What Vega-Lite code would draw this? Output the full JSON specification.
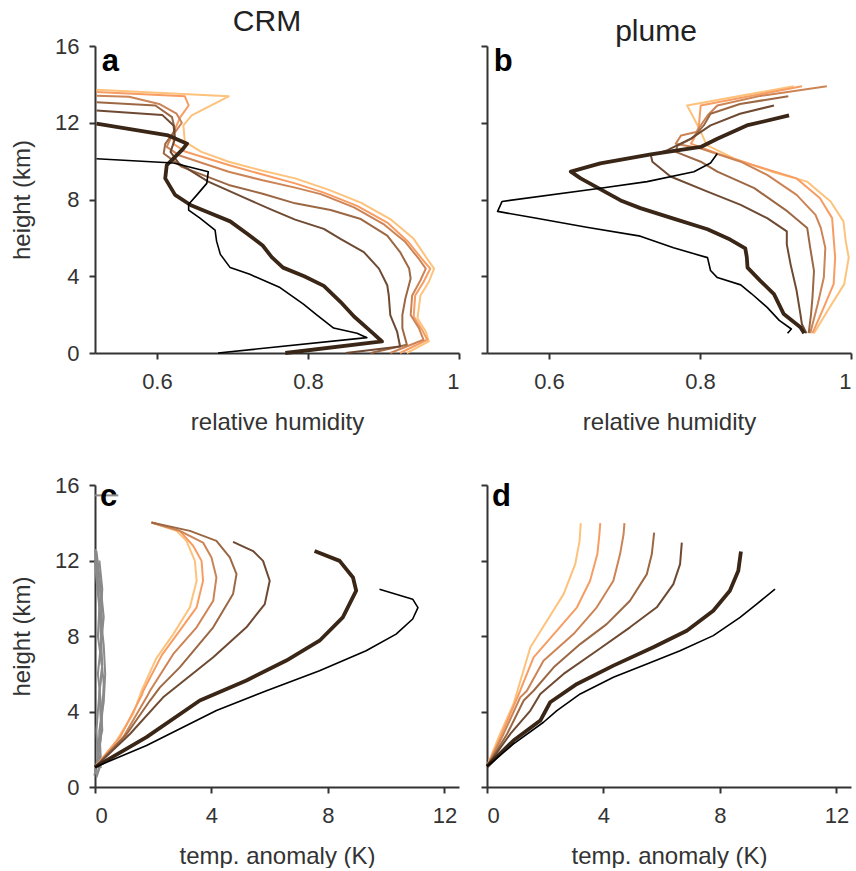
{
"$schema": "https://vega.github.io/schema/vega-lite/v6.json",
"padding": {"left": 10, "top": 7, "right": 5, "bottom": 0},
"background": "white",
"datasets": {
"a": [
{"s":"c5","x":0.931,"y":0},{"s":"c5","x":0.960,"y":0.6},{"s":"c5","x":0.956,"y":1.12},{"s":"c5","x":0.945,"y":1.81},{"s":"c5","x":0.949,"y":3.0},{"s":"c5","x":0.960,"y":3.7},{"s":"c5","x":0.967,"y":4.4},{"s":"c5","x":0.958,"y":4.9},{"s":"c5","x":0.940,"y":5.95},{"s":"c5","x":0.909,"y":6.98},{"s":"c5","x":0.870,"y":7.84},{"s":"c5","x":0.826,"y":8.53},{"s":"c5","x":0.783,"y":9.1},{"s":"c5","x":0.740,"y":9.5},{"s":"c5","x":0.695,"y":9.97},{"s":"c5","x":0.659,"y":10.48},{"s":"c5","x":0.637,"y":11.0},{"s":"c5","x":0.635,"y":11.86},{"s":"c5","x":0.646,"y":12.38},{"s":"c5","x":0.695,"y":13.38},{"s":"c5","x":0.52,"y":13.72},
{"s":"c4","x":0.922,"y":0},{"s":"c4","x":0.958,"y":0.69},{"s":"c4","x":0.951,"y":1.21},{"s":"c4","x":0.940,"y":1.9},{"s":"c4","x":0.942,"y":3.0},{"s":"c4","x":0.953,"y":3.7},{"s":"c4","x":0.962,"y":4.4},{"s":"c4","x":0.951,"y":4.9},{"s":"c4","x":0.933,"y":5.78},{"s":"c4","x":0.905,"y":6.8},{"s":"c4","x":0.865,"y":7.67},{"s":"c4","x":0.821,"y":8.36},{"s":"c4","x":0.783,"y":8.84},{"s":"c4","x":0.740,"y":9.3},{"s":"c4","x":0.695,"y":9.8},{"s":"c4","x":0.637,"y":10.5},{"s":"c4","x":0.622,"y":10.9},{"s":"c4","x":0.622,"y":11.52},{"s":"c4","x":0.631,"y":12.29},{"s":"c4","x":0.642,"y":12.9},{"s":"c4","x":0.637,"y":13.38},{"s":"c4","x":0.52,"y":13.6},
{"s":"c3","x":0.909,"y":0},{"s":"c3","x":0.953,"y":0.69},{"s":"c3","x":0.947,"y":1.29},{"s":"c3","x":0.936,"y":1.98},{"s":"c3","x":0.938,"y":3.0},{"s":"c3","x":0.949,"y":3.79},{"s":"c3","x":0.956,"y":4.4},{"s":"c3","x":0.947,"y":4.9},{"s":"c3","x":0.929,"y":5.78},{"s":"c3","x":0.900,"y":6.72},{"s":"c3","x":0.861,"y":7.59},{"s":"c3","x":0.817,"y":8.28},{"s":"c3","x":0.783,"y":8.62},{"s":"c3","x":0.740,"y":9.0},{"s":"c3","x":0.695,"y":9.45},{"s":"c3","x":0.629,"y":10.31},{"s":"c3","x":0.613,"y":10.74},{"s":"c3","x":0.618,"y":11.17},{"s":"c3","x":0.633,"y":12.0},{"s":"c3","x":0.626,"y":12.47},{"s":"c3","x":0.603,"y":12.98},{"s":"c3","x":0.563,"y":13.36},{"s":"c3","x":0.52,"y":13.41},
{"s":"c2","x":0.883,"y":0},{"s":"c2","x":0.931,"y":0.43},{"s":"c2","x":0.925,"y":1.29},{"s":"c2","x":0.925,"y":1.98},{"s":"c2","x":0.929,"y":2.84},{"s":"c2","x":0.936,"y":3.88},{"s":"c2","x":0.934,"y":4.4},{"s":"c2","x":0.922,"y":5.26},{"s":"c2","x":0.905,"y":6.12},{"s":"c2","x":0.870,"y":6.98},{"s":"c2","x":0.830,"y":7.45},{"s":"c2","x":0.783,"y":7.8},{"s":"c2","x":0.740,"y":8.3},{"s":"c2","x":0.695,"y":8.76},{"s":"c2","x":0.633,"y":9.7},{"s":"c2","x":0.609,"y":10.4},{"s":"c2","x":0.611,"y":10.9},{"s":"c2","x":0.624,"y":11.6},{"s":"c2","x":0.620,"y":12.29},{"s":"c2","x":0.598,"y":12.9},{"s":"c2","x":0.52,"y":13.07},
{"s":"c1","x":0.850,"y":0},{"s":"c1","x":0.922,"y":0.34},{"s":"c1","x":0.918,"y":1.12},{"s":"c1","x":0.909,"y":1.98},{"s":"c1","x":0.907,"y":3.0},{"s":"c1","x":0.905,"y":3.53},{"s":"c1","x":0.894,"y":4.4},{"s":"c1","x":0.874,"y":5.26},{"s":"c1","x":0.843,"y":5.95},{"s":"c1","x":0.821,"y":6.47},{"s":"c1","x":0.783,"y":6.95},{"s":"c1","x":0.750,"y":7.5},{"s":"c1","x":0.717,"y":8.07},{"s":"c1","x":0.668,"y":8.93},{"s":"c1","x":0.629,"y":9.88},{"s":"c1","x":0.618,"y":10.48},{"s":"c1","x":0.624,"y":11.17},{"s":"c1","x":0.622,"y":11.86},{"s":"c1","x":0.607,"y":12.41},{"s":"c1","x":0.52,"y":12.64},
{"s":"T","x":0.770,"y":0},{"s":"T","x":0.898,"y":0.6},{"s":"T","x":0.887,"y":1.0},{"s":"T","x":0.861,"y":1.9},{"s":"T","x":0.843,"y":2.67},{"s":"T","x":0.821,"y":3.5},{"s":"T","x":0.795,"y":4.0},{"s":"T","x":0.767,"y":4.45},{"s":"T","x":0.752,"y":5.0},{"s":"T","x":0.740,"y":5.6},{"s":"T","x":0.720,"y":6.2},{"s":"T","x":0.697,"y":6.86},{"s":"T","x":0.670,"y":7.3},{"s":"T","x":0.645,"y":7.7},{"s":"T","x":0.624,"y":8.24},{"s":"T","x":0.611,"y":9.1},{"s":"T","x":0.613,"y":9.79},{"s":"T","x":0.633,"y":10.57},{"s":"T","x":0.640,"y":10.91},{"s":"T","x":0.615,"y":11.34},{"s":"T","x":0.52,"y":11.95},
{"s":"k","x":0.681,"y":0},{"s":"k","x":0.878,"y":0.8},{"s":"k","x":0.865,"y":1.03},{"s":"k","x":0.834,"y":1.3},{"s":"k","x":0.812,"y":1.98},{"s":"k","x":0.794,"y":2.55},{"s":"k","x":0.763,"y":3.41},{"s":"k","x":0.723,"y":4.1},{"s":"k","x":0.697,"y":4.45},{"s":"k","x":0.684,"y":5.14},{"s":"k","x":0.679,"y":5.83},{"s":"k","x":0.677,"y":6.4},{"s":"k","x":0.657,"y":7.03},{"s":"k","x":0.642,"y":7.45},{"s":"k","x":0.642,"y":7.75},{"s":"k","x":0.653,"y":8.24},{"s":"k","x":0.666,"y":8.84},{"s":"k","x":0.668,"y":9.45},{"s":"k","x":0.622,"y":9.9},{"s":"k","x":0.52,"y":10.12}
],
"b": [
{"s":"c5","x":0.951,"y":1.03},{"s":"c5","x":0.969,"y":2.2},{"s":"c5","x":0.991,"y":3.59},{"s":"c5","x":0.997,"y":4.97},{"s":"c5","x":0.993,"y":5.83},{"s":"c5","x":0.990,"y":6.86},{"s":"c5","x":0.973,"y":7.9},{"s":"c5","x":0.942,"y":8.93},{"s":"c5","x":0.895,"y":9.45},{"s":"c5","x":0.845,"y":10.14},{"s":"c5","x":0.809,"y":10.83},{"s":"c5","x":0.797,"y":11.86},{"s":"c5","x":0.783,"y":12.9},{"s":"c5","x":0.924,"y":13.9},
{"s":"c4","x":0.949,"y":1.03},{"s":"c4","x":0.962,"y":2.2},{"s":"c4","x":0.977,"y":3.59},{"s":"c4","x":0.979,"y":4.97},{"s":"c4","x":0.977,"y":6.0},{"s":"c4","x":0.975,"y":7.03},{"s":"c4","x":0.959,"y":8.07},{"s":"c4","x":0.928,"y":9.1},{"s":"c4","x":0.871,"y":9.79},{"s":"c4","x":0.823,"y":10.4},{"s":"c4","x":0.788,"y":10.91},{"s":"c4","x":0.797,"y":11.52},{"s":"c4","x":0.799,"y":12.03},{"s":"c4","x":0.801,"y":12.9},{"s":"c4","x":0.935,"y":13.9},
{"s":"c3","x":0.946,"y":1.03},{"s":"c3","x":0.956,"y":2.55},{"s":"c3","x":0.964,"y":3.93},{"s":"c3","x":0.966,"y":5.48},{"s":"c3","x":0.960,"y":6.52},{"s":"c3","x":0.953,"y":7.2},{"s":"c3","x":0.928,"y":8.24},{"s":"c3","x":0.889,"y":9.28},{"s":"c3","x":0.854,"y":9.97},{"s":"c3","x":0.801,"y":10.66},{"s":"c3","x":0.768,"y":10.91},{"s":"c3","x":0.775,"y":11.34},{"s":"c3","x":0.795,"y":11.52},{"s":"c3","x":0.810,"y":12.38},{"s":"c3","x":0.823,"y":12.9},{"s":"c3","x":0.880,"y":13.4},{"s":"c3","x":0.968,"y":13.9},
{"s":"c2","x":0.944,"y":1.03},{"s":"c2","x":0.947,"y":2.0},{"s":"c2","x":0.949,"y":2.9},{"s":"c2","x":0.951,"y":4.28},{"s":"c2","x":0.946,"y":5.48},{"s":"c2","x":0.942,"y":6.52},{"s":"c2","x":0.916,"y":7.38},{"s":"c2","x":0.872,"y":8.59},{"s":"c2","x":0.823,"y":9.45},{"s":"c2","x":0.801,"y":9.97},{"s":"c2","x":0.768,"y":10.48},{"s":"c2","x":0.770,"y":10.8},{"s":"c2","x":0.790,"y":11.2},{"s":"c2","x":0.805,"y":11.86},{"s":"c2","x":0.814,"y":12.47},{"s":"c2","x":0.853,"y":12.98},{"s":"c2","x":0.917,"y":13.38},
{"s":"c1","x":0.941,"y":1.03},{"s":"c1","x":0.935,"y":1.5},{"s":"c1","x":0.933,"y":2.03},{"s":"c1","x":0.928,"y":3.24},{"s":"c1","x":0.920,"y":4.62},{"s":"c1","x":0.915,"y":5.66},{"s":"c1","x":0.915,"y":6.34},{"s":"c1","x":0.889,"y":7.03},{"s":"c1","x":0.854,"y":7.72},{"s":"c1","x":0.810,"y":8.41},{"s":"c1","x":0.761,"y":9.2},{"s":"c1","x":0.737,"y":9.97},{"s":"c1","x":0.735,"y":10.3},{"s":"c1","x":0.757,"y":10.57},{"s":"c1","x":0.788,"y":11.17},{"s":"c1","x":0.814,"y":11.86},{"s":"c1","x":0.853,"y":12.47},{"s":"c1","x":0.898,"y":12.9},
{"s":"T","x":0.938,"y":1.03},{"s":"T","x":0.933,"y":1.34},{"s":"T","x":0.911,"y":2.03},{"s":"T","x":0.898,"y":3.07},{"s":"T","x":0.880,"y":3.76},{"s":"T","x":0.863,"y":4.45},{"s":"T","x":0.862,"y":5.0},{"s":"T","x":0.860,"y":5.45},{"s":"T","x":0.840,"y":5.91},{"s":"T","x":0.810,"y":6.45},{"s":"T","x":0.765,"y":7.0},{"s":"T","x":0.721,"y":7.55},{"s":"T","x":0.695,"y":7.95},{"s":"T","x":0.642,"y":9.1},{"s":"T","x":0.629,"y":9.45},{"s":"T","x":0.668,"y":9.88},{"s":"T","x":0.735,"y":10.35},{"s":"T","x":0.801,"y":10.74},{"s":"T","x":0.823,"y":11.17},{"s":"T","x":0.862,"y":11.86},{"s":"T","x":0.918,"y":12.38},
{"s":"k","x":0.916,"y":1.03},{"s":"k","x":0.921,"y":1.25},{"s":"k","x":0.905,"y":1.7},{"s":"k","x":0.889,"y":2.38},{"s":"k","x":0.868,"y":3.1},{"s":"k","x":0.854,"y":3.55},{"s":"k","x":0.823,"y":3.93},{"s":"k","x":0.814,"y":4.3},{"s":"k","x":0.810,"y":4.97},{"s":"k","x":0.765,"y":5.48},{"s":"k","x":0.721,"y":6.09},{"s":"k","x":0.650,"y":6.55},{"s":"k","x":0.58,"y":7.05},{"s":"k","x":0.532,"y":7.38},{"s":"k","x":0.538,"y":7.9},{"s":"k","x":0.668,"y":8.59},{"s":"k","x":0.730,"y":8.93},{"s":"k","x":0.792,"y":9.45},{"s":"k","x":0.814,"y":9.9},{"s":"k","x":0.823,"y":10.4}
],
"c": [
{"s":"g1","x":0.05,"y":0.5},{"s":"g1","x":0.15,"y":1.0},{"s":"g1","x":0.1,"y":2.0},{"s":"g1","x":0.2,"y":3.5},{"s":"g1","x":0.15,"y":5},{"s":"g1","x":0.25,"y":6.5},{"s":"g1","x":0.2,"y":8},{"s":"g1","x":0.15,"y":9.5},{"s":"g1","x":0.1,"y":11},{"s":"g1","x":0.0,"y":12.6},
{"s":"g2","x":-0.02,"y":0.6},{"s":"g2","x":0.05,"y":1.2},{"s":"g2","x":0.2,"y":2.5},{"s":"g2","x":0.25,"y":4},{"s":"g2","x":0.3,"y":5.5},{"s":"g2","x":0.2,"y":7},{"s":"g2","x":0.25,"y":8.5},{"s":"g2","x":0.2,"y":10},{"s":"g2","x":0.1,"y":11.5},{"s":"g2","x":0.05,"y":12.3},
{"s":"g3","x":0.1,"y":0.8},{"s":"g3","x":0.2,"y":1.5},{"s":"g3","x":0.15,"y":3},{"s":"g3","x":0.3,"y":4.5},{"s":"g3","x":0.35,"y":6},{"s":"g3","x":0.3,"y":7.5},{"s":"g3","x":0.2,"y":9},{"s":"g3","x":0.25,"y":10.5},{"s":"g3","x":0.15,"y":12},
{"s":"g4","x":0.2,"y":1.0},{"s":"g4","x":0.1,"y":2},{"s":"g4","x":0.25,"y":3},{"s":"g4","x":0.2,"y":4.5},{"s":"g4","x":0.1,"y":6},{"s":"g4","x":0.2,"y":7.5},{"s":"g4","x":0.3,"y":9},{"s":"g4","x":0.2,"y":10.5},{"s":"g4","x":0.05,"y":12.5},
{"s":"g5","x":0.0,"y":0.7},{"s":"g5","x":0.1,"y":1.5},{"s":"g5","x":0.05,"y":3},{"s":"g5","x":0.15,"y":5},{"s":"g5","x":0.25,"y":6.3},{"s":"g5","x":0.1,"y":8},{"s":"g5","x":0.15,"y":9.5},{"s":"g5","x":0.05,"y":11},{"s":"g5","x":0.0,"y":12.0},
{"s":"g6","x":0.0,"y":15.45},{"s":"g6","x":0.8,"y":15.45},
{"s":"c5","x":0,"y":1.05},{"s":"c5","x":0.74,"y":2.46},{"s":"c5","x":1.31,"y":3.87},{"s":"c5","x":1.6,"y":5.1},{"s":"c5","x":2.1,"y":6.8},{"s":"c5","x":2.69,"y":8.1},{"s":"c5","x":3.26,"y":9.52},{"s":"c5","x":3.49,"y":10.93},{"s":"c5","x":3.43,"y":11.98},{"s":"c5","x":3.14,"y":13.04},{"s":"c5","x":2.8,"y":13.57},{"s":"c5","x":1.94,"y":14.01},
{"s":"c4","x":0,"y":1.05},{"s":"c4","x":0.86,"y":2.64},{"s":"c4","x":1.6,"y":4.84},{"s":"c4","x":1.66,"y":5.1},{"s":"c4","x":2.3,"y":7.0},{"s":"c4","x":2.91,"y":8.28},{"s":"c4","x":3.49,"y":9.52},{"s":"c4","x":3.71,"y":10.93},{"s":"c4","x":3.66,"y":11.98},{"s":"c4","x":3.37,"y":12.78},{"s":"c4","x":2.91,"y":13.57},{"s":"c4","x":1.94,"y":14.01},
{"s":"c3","x":0,"y":1.05},{"s":"c3","x":0.97,"y":2.64},{"s":"c3","x":1.77,"y":4.75},{"s":"c3","x":1.89,"y":5.1},{"s":"c3","x":2.69,"y":7.05},{"s":"c3","x":3.49,"y":8.46},{"s":"c3","x":4.06,"y":9.87},{"s":"c3","x":4.17,"y":11.1},{"s":"c3","x":4.0,"y":12.16},{"s":"c3","x":3.71,"y":12.95},{"s":"c3","x":2.91,"y":13.57},{"s":"c3","x":1.94,"y":14.01},
{"s":"c2","x":0,"y":1.05},{"s":"c2","x":1.09,"y":2.81},{"s":"c2","x":1.89,"y":4.58},{"s":"c2","x":2.23,"y":5.28},{"s":"c2","x":2.91,"y":6.34},{"s":"c2","x":4.06,"y":8.46},{"s":"c2","x":4.74,"y":10.22},{"s":"c2","x":4.86,"y":11.28},{"s":"c2","x":4.63,"y":12.16},{"s":"c2","x":4.17,"y":13.04},{"s":"c2","x":3.26,"y":13.57},{"s":"c2","x":1.94,"y":14.01},
{"s":"c1","x":0,"y":1.05},{"s":"c1","x":1.2,"y":2.81},{"s":"c1","x":2.34,"y":4.75},{"s":"c1","x":2.91,"y":5.46},{"s":"c1","x":4.06,"y":6.87},{"s":"c1","x":5.2,"y":8.46},{"s":"c1","x":5.83,"y":9.69},{"s":"c1","x":6.0,"y":10.93},{"s":"c1","x":5.77,"y":11.98},{"s":"c1","x":5.43,"y":12.5},{"s":"c1","x":4.74,"y":12.99},
{"s":"T","x":0,"y":1.05},{"s":"T","x":1.77,"y":2.64},{"s":"T","x":3.6,"y":4.58},{"s":"T","x":5.2,"y":5.64},{"s":"T","x":6.57,"y":6.7},{"s":"T","x":7.71,"y":7.75},{"s":"T","x":8.51,"y":8.99},{"s":"T","x":8.97,"y":10.4},{"s":"T","x":8.86,"y":11.1},{"s":"T","x":8.4,"y":11.98},{"s":"T","x":7.54,"y":12.5},
{"s":"k","x":0,"y":1.05},{"s":"k","x":1.77,"y":2.2},{"s":"k","x":4.17,"y":4.05},{"s":"k","x":5.89,"y":5.1},{"s":"k","x":7.71,"y":6.16},{"s":"k","x":9.31,"y":7.22},{"s":"k","x":10.34,"y":8.1},{"s":"k","x":10.91,"y":8.9},{"s":"k","x":11.09,"y":9.5},{"s":"k","x":10.91,"y":9.95},{"s":"k","x":9.77,"y":10.48}
],
"d": [
{"s":"c5","x":0,"y":1.09},{"s":"c5","x":0.4,"y":2.64},{"s":"c5","x":0.91,"y":4.4},{"s":"c5","x":1.03,"y":5.02},{"s":"c5","x":1.49,"y":7.4},{"s":"c5","x":2.06,"y":8.81},{"s":"c5","x":2.63,"y":10.22},{"s":"c5","x":3.03,"y":11.81},{"s":"c5","x":3.18,"y":13.04},{"s":"c5","x":3.22,"y":13.98},
{"s":"c4","x":0,"y":1.09},{"s":"c4","x":0.46,"y":2.64},{"s":"c4","x":0.97,"y":4.49},{"s":"c4","x":1.14,"y":5.1},{"s":"c4","x":1.6,"y":6.87},{"s":"c4","x":2.4,"y":8.28},{"s":"c4","x":3.09,"y":9.52},{"s":"c4","x":3.54,"y":10.93},{"s":"c4","x":3.79,"y":12.34},{"s":"c4","x":3.86,"y":13.39},{"s":"c4","x":3.89,"y":13.98},
{"s":"c3","x":0,"y":1.09},{"s":"c3","x":0.57,"y":2.81},{"s":"c3","x":1.14,"y":4.75},{"s":"c3","x":1.37,"y":5.1},{"s":"c3","x":1.94,"y":6.69},{"s":"c3","x":2.97,"y":8.1},{"s":"c3","x":3.77,"y":9.52},{"s":"c3","x":4.34,"y":10.93},{"s":"c3","x":4.57,"y":12.34},{"s":"c3","x":4.69,"y":13.39},{"s":"c3","x":4.72,"y":13.98},
{"s":"c2","x":0,"y":1.09},{"s":"c2","x":0.69,"y":2.81},{"s":"c2","x":1.26,"y":4.58},{"s":"c2","x":1.6,"y":5.1},{"s":"c2","x":2.29,"y":6.34},{"s":"c2","x":3.2,"y":7.57},{"s":"c2","x":4.11,"y":8.63},{"s":"c2","x":4.91,"y":9.87},{"s":"c2","x":5.49,"y":11.28},{"s":"c2","x":5.66,"y":12.34},{"s":"c2","x":5.74,"y":13.48},
{"s":"c1","x":0,"y":1.09},{"s":"c1","x":0.8,"y":2.81},{"s":"c1","x":1.49,"y":4.05},{"s":"c1","x":1.83,"y":4.93},{"s":"c1","x":2.63,"y":5.99},{"s":"c1","x":3.77,"y":7.22},{"s":"c1","x":4.91,"y":8.46},{"s":"c1","x":5.83,"y":9.52},{"s":"c1","x":6.4,"y":10.75},{"s":"c1","x":6.63,"y":11.81},{"s":"c1","x":6.69,"y":12.95},
{"s":"T","x":0,"y":1.09},{"s":"T","x":0.91,"y":2.46},{"s":"T","x":1.83,"y":3.52},{"s":"T","x":2.17,"y":4.49},{"s":"T","x":3.09,"y":5.46},{"s":"T","x":4.34,"y":6.43},{"s":"T","x":5.71,"y":7.4},{"s":"T","x":6.86,"y":8.28},{"s":"T","x":7.77,"y":9.34},{"s":"T","x":8.34,"y":10.4},{"s":"T","x":8.63,"y":11.46},{"s":"T","x":8.72,"y":12.48},
{"s":"k","x":0,"y":1.09},{"s":"k","x":0.91,"y":2.28},{"s":"k","x":1.94,"y":3.43},{"s":"k","x":2.4,"y":4.05},{"s":"k","x":3.2,"y":4.93},{"s":"k","x":4.34,"y":5.81},{"s":"k","x":5.49,"y":6.52},{"s":"k","x":6.63,"y":7.22},{"s":"k","x":7.77,"y":8.02},{"s":"k","x":8.69,"y":8.99},{"s":"k","x":9.26,"y":9.69},{"s":"k","x":9.89,"y":10.48}
]
},
"columns": 2,
"bounds": "flush",
"spacing": {"column": 28, "row": 132},
"concat": [
{
 "width": 364, "height": 307,
 "title": {"text": "CRM", "dx": -10},
 "encoding": {
  "x": {"field": "x", "type": "quantitative", "scale": {"domain": [0.518, 1], "nice": false, "zero": false}, "axis": {"values": [0.6, 0.8, 1], "format": "~g", "title": "relative humidity"}},
  "y": {"field": "y", "type": "quantitative", "scale": {"domain": [0, 16], "nice": false}, "axis": {"values": [0, 4, 8, 12, 16], "title": "height (km)"}}
 },
 "layer": [
  {"data": {"name": "a"}, "transform": [{"filter": {"field": "s", "oneOf": ["c1","c2","c3","c4","c5","g1","g2","g3","g4","g5","g6"]}}],
   "mark": {"type": "line", "strokeWidth": 2, "strokeJoin": "round"},
   "encoding": {"color": {"field": "s", "type": "nominal", "scale": {"domain": ["c1","c2","c3","c4","c5","g1","g2","g3","g4","g5","g6"], "range": ["#6e4a33","#9c6844","#cc8456","#f79d63","#fdc27c","#8a8a8a","#8a8a8a","#8a8a8a","#8a8a8a","#8a8a8a","#8a8a8a"]}, "legend": null}, "order": {"value": null}}},
  {"data": {"name": "a"}, "transform": [{"filter": {"field": "s", "equal": "T"}}],
   "mark": {"type": "line", "strokeWidth": 3.8, "strokeJoin": "round", "color": "#3a2616"}, "encoding": {"order": {"value": null}}},
  {"data": {"name": "a"}, "transform": [{"filter": {"field": "s", "equal": "k"}}],
   "mark": {"type": "line", "strokeWidth": 1.6, "strokeJoin": "round", "color": "#000000"}, "encoding": {"order": {"value": null}}},
  {"data": {"values": [{"x": 0.527, "y": 14.71, "t": "a"}]}, "mark": {"type": "text", "align": "left", "baseline": "alphabetic", "fontSize": 31, "fontWeight": "bold", "color": "#000"},
   "encoding": {"text": {"field": "t"}}}
 ]
},
{
 "width": 364, "height": 307,
 "title": {"text": "plume", "dx": -13},
 "encoding": {
  "x": {"field": "x", "type": "quantitative", "scale": {"domain": [0.518, 1], "nice": false, "zero": false}, "axis": {"values": [0.6, 0.8, 1], "format": "~g", "title": "relative humidity"}},
  "y": {"field": "y", "type": "quantitative", "scale": {"domain": [0, 16], "nice": false}, "axis": {"values": [0, 4, 8, 12, 16], "labels": false, "title": null}}
 },
 "layer": [
  {"data": {"name": "b"}, "transform": [{"filter": {"field": "s", "oneOf": ["c1","c2","c3","c4","c5","g1","g2","g3","g4","g5","g6"]}}],
   "mark": {"type": "line", "strokeWidth": 2, "strokeJoin": "round"},
   "encoding": {"color": {"field": "s", "type": "nominal", "scale": {"domain": ["c1","c2","c3","c4","c5","g1","g2","g3","g4","g5","g6"], "range": ["#6e4a33","#9c6844","#cc8456","#f79d63","#fdc27c","#8a8a8a","#8a8a8a","#8a8a8a","#8a8a8a","#8a8a8a","#8a8a8a"]}, "legend": null}, "order": {"value": null}}},
  {"data": {"name": "b"}, "transform": [{"filter": {"field": "s", "equal": "T"}}],
   "mark": {"type": "line", "strokeWidth": 3.8, "strokeJoin": "round", "color": "#3a2616"}, "encoding": {"order": {"value": null}}},
  {"data": {"name": "b"}, "transform": [{"filter": {"field": "s", "equal": "k"}}],
   "mark": {"type": "line", "strokeWidth": 1.6, "strokeJoin": "round", "color": "#000000"}, "encoding": {"order": {"value": null}}},
  {"data": {"values": [{"x": 0.527, "y": 14.71, "t": "b"}]}, "mark": {"type": "text", "align": "left", "baseline": "alphabetic", "fontSize": 31, "fontWeight": "bold", "color": "#000"},
   "encoding": {"text": {"field": "t"}}}
 ]
},
{
 "width": 364, "height": 302,
 "encoding": {
  "x": {"field": "x", "type": "quantitative", "scale": {"domain": [0, 12.5], "nice": false, "zero": false}, "axis": {"values": [0, 4, 8, 12], "title": "temp. anomaly (K)"}},
  "y": {"field": "y", "type": "quantitative", "scale": {"domain": [0, 16], "nice": false}, "axis": {"values": [0, 4, 8, 12, 16], "title": "height (km)"}}
 },
 "layer": [
  {"data": {"name": "c"}, "transform": [{"filter": {"field": "s", "oneOf": ["c1","c2","c3","c4","c5","g1","g2","g3","g4","g5","g6"]}}],
   "mark": {"type": "line", "strokeWidth": 2, "strokeJoin": "round"},
   "encoding": {"color": {"field": "s", "type": "nominal", "scale": {"domain": ["c1","c2","c3","c4","c5","g1","g2","g3","g4","g5","g6"], "range": ["#6e4a33","#9c6844","#cc8456","#f79d63","#fdc27c","#8a8a8a","#8a8a8a","#8a8a8a","#8a8a8a","#8a8a8a","#8a8a8a"]}, "legend": null}, "order": {"value": null}}},
  {"data": {"name": "c"}, "transform": [{"filter": {"field": "s", "equal": "T"}}],
   "mark": {"type": "line", "strokeWidth": 3.8, "strokeJoin": "round", "color": "#3a2616"}, "encoding": {"order": {"value": null}}},
  {"data": {"name": "c"}, "transform": [{"filter": {"field": "s", "equal": "k"}}],
   "mark": {"type": "line", "strokeWidth": 1.6, "strokeJoin": "round", "color": "#000000"}, "encoding": {"order": {"value": null}}},
  {"data": {"values": [{"x": 0.17, "y": 14.9, "t": "c"}]}, "mark": {"type": "text", "align": "left", "baseline": "alphabetic", "fontSize": 31, "fontWeight": "bold", "color": "#000"},
   "encoding": {"text": {"field": "t"}}}
 ]
},
{
 "width": 364, "height": 302,
 "encoding": {
  "x": {"field": "x", "type": "quantitative", "scale": {"domain": [0, 12.5], "nice": false, "zero": false}, "axis": {"values": [0, 4, 8, 12], "title": "temp. anomaly (K)"}},
  "y": {"field": "y", "type": "quantitative", "scale": {"domain": [0, 16], "nice": false}, "axis": {"values": [0, 4, 8, 12, 16], "labels": false, "title": null}}
 },
 "layer": [
  {"data": {"name": "d"}, "transform": [{"filter": {"field": "s", "oneOf": ["c1","c2","c3","c4","c5","g1","g2","g3","g4","g5","g6"]}}],
   "mark": {"type": "line", "strokeWidth": 2, "strokeJoin": "round"},
   "encoding": {"color": {"field": "s", "type": "nominal", "scale": {"domain": ["c1","c2","c3","c4","c5","g1","g2","g3","g4","g5","g6"], "range": ["#6e4a33","#9c6844","#cc8456","#f79d63","#fdc27c","#8a8a8a","#8a8a8a","#8a8a8a","#8a8a8a","#8a8a8a","#8a8a8a"]}, "legend": null}, "order": {"value": null}}},
  {"data": {"name": "d"}, "transform": [{"filter": {"field": "s", "equal": "T"}}],
   "mark": {"type": "line", "strokeWidth": 3.8, "strokeJoin": "round", "color": "#3a2616"}, "encoding": {"order": {"value": null}}},
  {"data": {"name": "d"}, "transform": [{"filter": {"field": "s", "equal": "k"}}],
   "mark": {"type": "line", "strokeWidth": 1.6, "strokeJoin": "round", "color": "#000000"}, "encoding": {"order": {"value": null}}},
  {"data": {"values": [{"x": 0.17, "y": 14.9, "t": "d"}]}, "mark": {"type": "text", "align": "left", "baseline": "alphabetic", "fontSize": 31, "fontWeight": "bold", "color": "#000"},
   "encoding": {"text": {"field": "t"}}}
 ]
}
],
"config": {
 "view": {"stroke": null},
 "font": "Liberation Sans",
 "axis": {"grid": false, "domainColor": "#333333", "domainWidth": 2, "tickColor": "#333333", "tickWidth": 2, "tickSize": 6, "labelFontSize": 22, "labelColor": "#333333", "titleFontSize": 24, "titleFontWeight": "normal", "titleColor": "#333333", "labelPadding": 10},
 "axisX": {"titlePadding": 18, "labelPadding": 12},
 "axisY": {"titlePadding": 20},
 "title": {"fontSize": 30, "fontWeight": "normal", "color": "#222222", "offset": -2, "baseline": "alphabetic"}
}
}
